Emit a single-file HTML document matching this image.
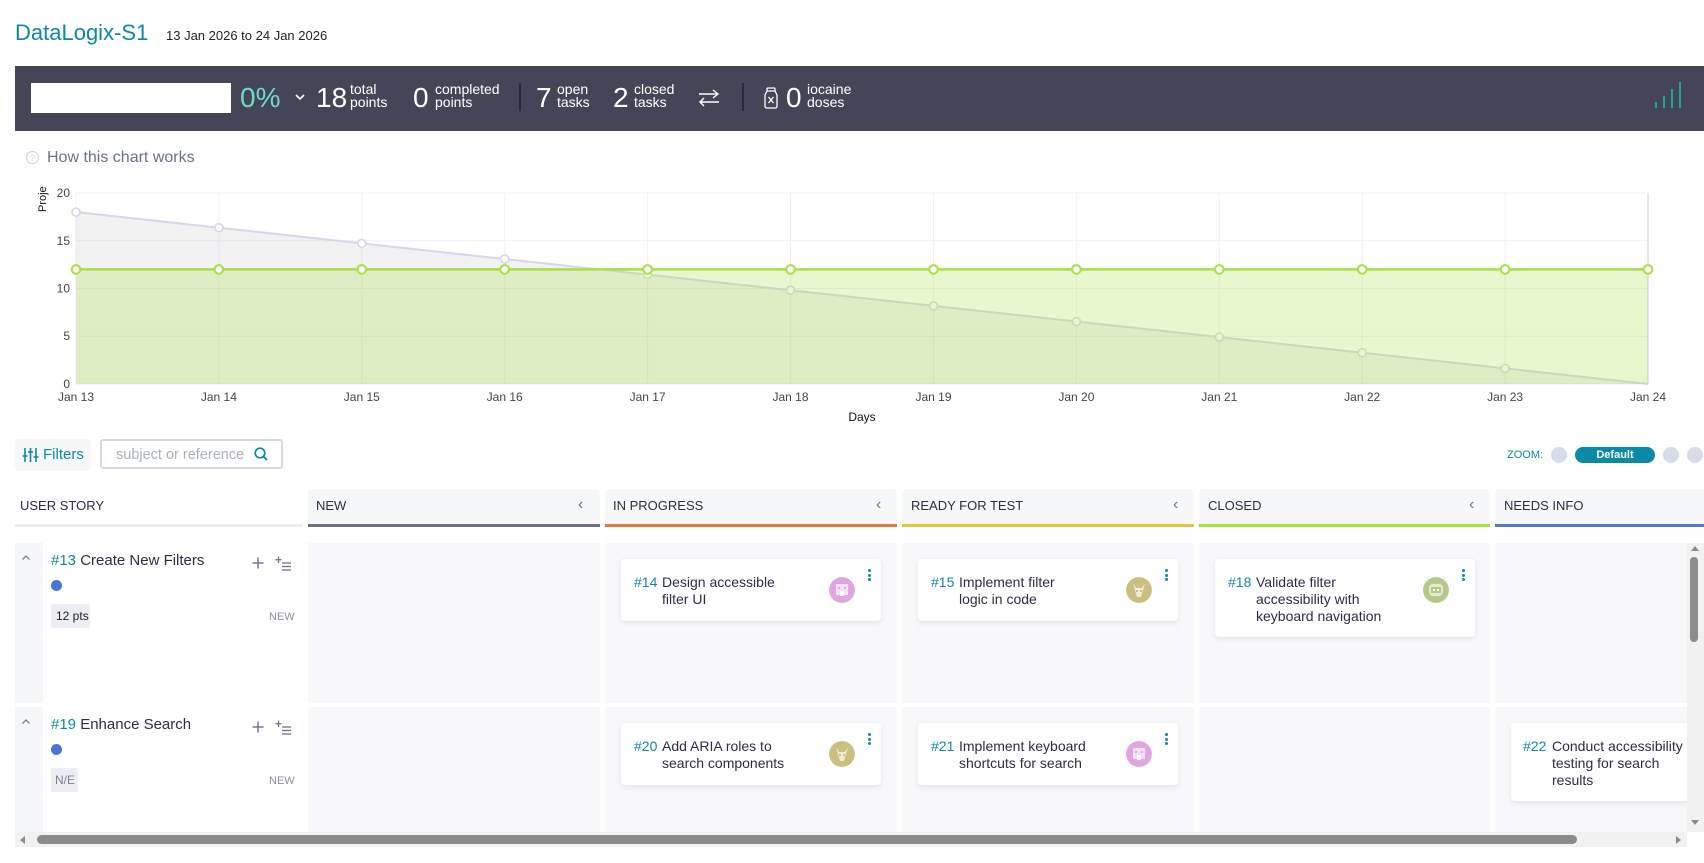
<!DOCTYPE html>
<html><head><meta charset="utf-8"><style>
*{box-sizing:border-box;margin:0;padding:0}
body{width:1704px;height:863px;overflow:hidden;background:#fff;font-family:"Liberation Sans",sans-serif;color:#2b2d42}
.a{position:absolute;white-space:nowrap}
.wrap{position:relative;width:1704px;height:863px;overflow:hidden}
.big{font-size:28px;line-height:28px;color:#fff}
.lbl{font-size:14px;line-height:13px;color:#fff}
.hd{font-size:13px;line-height:13px;color:#2b2d42}
.chev{font-size:16px;color:#6b7286}
.card{position:absolute;width:260px;background:#fff;border-radius:4px;box-shadow:0 2px 6px rgba(40,50,80,0.10)}
.card .ref{position:absolute;left:13px;top:15px;font-size:14px;line-height:17px;color:#0b8aa6}
.card .tt{position:absolute;left:41px;top:15px;font-size:14px;line-height:17px;color:#2b2d42;white-space:nowrap}
.card .av{position:absolute;right:26px;top:18px;width:26px;height:26px;border-radius:50%}
.card .dots{position:absolute;right:10px;top:10px;width:3px}
.card .dots i{display:block;width:3px;height:3px;border-radius:50%;background:#0b8aa6;margin-bottom:1.5px}
.cell{position:absolute;background:#f8f8fa}
</style></head><body><div class="wrap">

<!-- title -->
<div class="a" style="left:15px;top:21px;font-size:22px;line-height:24px;color:#0b8aa6">DataLogix-S1</div>
<div class="a" style="left:166px;top:29px;font-size:13px;line-height:14px;color:#222">13 Jan 2026 to 24 Jan 2026</div>

<!-- dark bar -->
<div class="a" style="left:15px;top:66px;width:1689px;height:65px;background:#444557"></div>
<div class="a" style="left:31px;top:83px;width:200px;height:30px;background:#fff"></div>
<div class="a big" style="left:240px;top:84px;color:#6fdcc2">0%</div>
<svg class="a" style="left:294px;top:92px" width="12" height="10"><polyline points="2,3 6,7 10,3" fill="none" stroke="#fff" stroke-width="1.6"/></svg>
<div class="a big" style="left:316px;top:84px">18</div>
<div class="a lbl" style="left:350px;top:83px">total<br>points</div>
<div class="a big" style="left:413px;top:84px">0</div>
<div class="a lbl" style="left:435px;top:83px">completed<br>points</div>
<div class="a" style="left:519px;top:83px;width:2px;height:28px;background:#2a2b38"></div>
<div class="a big" style="left:536px;top:84px">7</div>
<div class="a lbl" style="left:557px;top:83px">open<br>tasks</div>
<div class="a big" style="left:613px;top:84px">2</div>
<div class="a lbl" style="left:634px;top:83px">closed<br>tasks</div>
<svg class="a" style="left:697px;top:88px" width="24" height="20"><g fill="none" stroke="#fff" stroke-width="1.4"><line x1="2" y1="6" x2="21" y2="6"/><polyline points="16,2 21,6 16,10"/><line x1="3" y1="14" x2="22" y2="14"/><polyline points="7,10 3,14 7,18"/></g></svg>
<div class="a" style="left:742px;top:83px;width:2px;height:28px;background:#2a2b38"></div>
<svg class="a" style="left:762px;top:86px" width="18" height="24"><g fill="none" stroke="#fff" stroke-width="1.3"><rect x="5" y="2" width="8" height="3" rx="1"/><path d="M5 5 L3 9 L3 20 Q3 22 5 22 L13 22 Q15 22 15 20 L15 9 L13 5"/><path d="M6.5 11 L11.5 17 M11.5 11 L6.5 17"/></g></svg>
<div class="a big" style="left:786px;top:84px">0</div>
<div class="a lbl" style="left:807px;top:83px">iocaine<br>doses</div>
<div class="a" style="left:1655px;top:102px;width:2px;height:6px;background:#20a68a"></div>
<div class="a" style="left:1663px;top:96px;width:2px;height:12px;background:#20a68a"></div>
<div class="a" style="left:1671px;top:89px;width:2px;height:19px;background:#20a68a"></div>
<div class="a" style="left:1679px;top:82px;width:2px;height:26px;background:#20a68a"></div>

<!-- how this chart works -->
<svg class="a" style="left:25px;top:150px" width="16" height="16"><circle cx="7.5" cy="7.5" r="6" fill="none" stroke="#cfd4e0" stroke-width="1.2"/><text x="7.5" y="11" font-size="9" text-anchor="middle" fill="#cfd4e0" font-family="Liberation Sans">?</text></svg>
<div class="a" style="left:47px;top:149px;font-size:16px;line-height:17px;color:#6b7286">How this chart works</div>

<!-- chart -->
<svg class="a" style="left:0;top:0" width="1704" height="430" font-family="Liberation Sans, sans-serif">
<g stroke="#eef0f5" stroke-width="1">
<line x1="76" y1="193" x2="1648" y2="193"/><line x1="76" y1="240.75" x2="1648" y2="240.75"/><line x1="76" y1="288.5" x2="1648" y2="288.5"/><line x1="76" y1="336.25" x2="1648" y2="336.25"/>
<line x1="76" y1="193" x2="76" y2="384"/><line x1="218.9" y1="193" x2="218.9" y2="384"/><line x1="361.8" y1="193" x2="361.8" y2="384"/><line x1="504.7" y1="193" x2="504.7" y2="384"/><line x1="647.6" y1="193" x2="647.6" y2="384"/><line x1="790.5" y1="193" x2="790.5" y2="384"/><line x1="933.5" y1="193" x2="933.5" y2="384"/><line x1="1076.4" y1="193" x2="1076.4" y2="384"/><line x1="1219.3" y1="193" x2="1219.3" y2="384"/><line x1="1362.2" y1="193" x2="1362.2" y2="384"/><line x1="1505.1" y1="193" x2="1505.1" y2="384"/>
</g>
<line x1="1648" y1="193" x2="1648" y2="384" stroke="#d8dbe8" stroke-width="1.5"/>
<line x1="76" y1="384" x2="1648" y2="384" stroke="#eceef3" stroke-width="1"/>
<!-- gray series -->
<polygon points="76,212.1 218.9,227.7 361.8,243.4 504.7,259 647.6,274.6 790.5,290.2 933.5,305.9 1076.4,321.5 1219.3,337.1 1362.2,352.7 1505.1,368.4 1648,384 76,384" fill="rgba(150,150,150,0.124)"/>
<polyline points="76,212.1 218.9,227.7 361.8,243.4 504.7,259 647.6,274.6 790.5,290.2 933.5,305.9 1076.4,321.5 1219.3,337.1 1362.2,352.7 1505.1,368.4 1648,384" fill="none" stroke="#d3d8e8" stroke-width="2"/>
<g fill="#fff" stroke="#d3d8e8" stroke-width="1.6">
<circle cx="76" cy="212.1" r="4"/><circle cx="218.9" cy="227.7" r="4"/><circle cx="361.8" cy="243.4" r="4"/><circle cx="504.7" cy="259" r="4"/><circle cx="647.6" cy="274.6" r="4"/><circle cx="790.5" cy="290.2" r="4"/><circle cx="933.5" cy="305.9" r="4"/><circle cx="1076.4" cy="321.5" r="4"/><circle cx="1219.3" cy="337.1" r="4"/><circle cx="1362.2" cy="352.7" r="4"/><circle cx="1505.1" cy="368.4" r="4"/>
</g>
<!-- green series -->
<rect x="76" y="269.4" width="1572" height="114.6" fill="rgba(166,224,60,0.25)"/>
<line x1="76" y1="269.4" x2="1648" y2="269.4" stroke="#a8e044" stroke-width="2.5"/>
<g fill="#fff" stroke="#a8e044" stroke-width="2">
<circle cx="76" cy="269.4" r="4.3"/><circle cx="218.9" cy="269.4" r="4.3"/><circle cx="361.8" cy="269.4" r="4.3"/><circle cx="504.7" cy="269.4" r="4.3"/><circle cx="647.6" cy="269.4" r="4.3"/><circle cx="790.5" cy="269.4" r="4.3"/><circle cx="933.5" cy="269.4" r="4.3"/><circle cx="1076.4" cy="269.4" r="4.3"/><circle cx="1219.3" cy="269.4" r="4.3"/><circle cx="1362.2" cy="269.4" r="4.3"/><circle cx="1505.1" cy="269.4" r="4.3"/><circle cx="1648" cy="269.4" r="4.3"/>
</g>
<g font-size="12" fill="#444" text-anchor="end">
<text x="70" y="197">20</text><text x="70" y="245">15</text><text x="70" y="292.5">10</text><text x="70" y="340">5</text><text x="70" y="388">0</text>
</g>
<g font-size="12" fill="#444" text-anchor="middle">
<text x="76" y="401">Jan 13</text><text x="218.9" y="401">Jan 14</text><text x="361.8" y="401">Jan 15</text><text x="504.7" y="401">Jan 16</text><text x="647.6" y="401">Jan 17</text><text x="790.5" y="401">Jan 18</text><text x="933.5" y="401">Jan 19</text><text x="1076.4" y="401">Jan 20</text><text x="1219.3" y="401">Jan 21</text><text x="1362.2" y="401">Jan 22</text><text x="1505.1" y="401">Jan 23</text><text x="1648" y="401">Jan 24</text>
</g>
<text x="862" y="421" font-size="12" fill="#111" text-anchor="middle">Days</text>
<text transform="translate(46,212) rotate(-90)" font-size="11" fill="#111">Proje</text>
</svg>

<!-- filters / search -->
<div class="a" style="left:15px;top:439px;width:76px;height:32px;background:#f5f7f9;border-radius:4px"></div>
<svg class="a" style="left:22px;top:447px" width="18" height="17"><g stroke="#0b8aa6" stroke-width="1.6"><line x1="3" y1="1" x2="3" y2="15"/><line x1="8.5" y1="1" x2="8.5" y2="15"/><line x1="14" y1="1" x2="14" y2="15"/><line x1="0.5" y1="9" x2="5.5" y2="9"/><line x1="6" y1="5" x2="11" y2="5"/><line x1="11.5" y1="10" x2="16.5" y2="10"/></g></svg>
<div class="a" style="left:43px;top:447px;font-size:15px;line-height:16px;color:#0b8aa6">Filters</div>
<div class="a" style="left:100px;top:439px;width:183px;height:30px;border:2px solid #d3d9e6;border-radius:3px;background:#fff"></div>
<div class="a" style="left:116px;top:447px;font-size:14.5px;line-height:16px;color:#a9afbd">subject or reference</div>
<svg class="a" style="left:253px;top:446px" width="16" height="16"><circle cx="7" cy="7" r="4.8" fill="none" stroke="#0b8aa6" stroke-width="1.7"/><line x1="10.5" y1="10.5" x2="14" y2="14" stroke="#0b8aa6" stroke-width="1.8"/></svg>

<!-- zoom -->
<div class="a" style="left:1507px;top:449px;font-size:11px;line-height:12px;color:#0b8aa6">ZOOM:</div>
<div class="a" style="left:1551px;top:447px;width:16px;height:16px;border-radius:50%;background:#d6dbe7"></div>
<div class="a" style="left:1575px;top:447px;width:80px;height:16px;border-radius:8px;background:#0b8aa6;color:#fff;font-size:11px;line-height:16px;text-align:center;font-weight:bold">Default</div>
<div class="a" style="left:1663px;top:447px;width:16px;height:16px;border-radius:50%;background:#d6dbe7"></div>
<div class="a" style="left:1687px;top:447px;width:16px;height:16px;border-radius:50%;background:#d6dbe7"></div>

<!-- kanban headers -->
<div class="a hd" style="left:20px;top:499px">USER STORY</div>
<div class="a" style="left:15px;top:524px;width:288px;height:3px;background:#e9ecf2"></div>

<div class="a" style="left:308px;top:489px;width:292px;height:38px;background:#f6f7f9;border-radius:4px 4px 0 0;border-bottom:3px solid #6d6e8c"></div>
<div class="a hd" style="left:316px;top:499px">NEW</div>
<div class="a chev" style="left:578px;top:496px">‹</div>

<div class="a" style="left:605px;top:489px;width:292px;height:38px;background:#f6f7f9;border-radius:4px 4px 0 0;border-bottom:3px solid #e07a3c"></div>
<div class="a hd" style="left:613px;top:499px">IN PROGRESS</div>
<div class="a chev" style="left:876px;top:496px">‹</div>

<div class="a" style="left:902px;top:489px;width:292px;height:38px;background:#f6f7f9;border-radius:4px 4px 0 0;border-bottom:3px solid #e3c836"></div>
<div class="a hd" style="left:911px;top:499px">READY FOR TEST</div>
<div class="a chev" style="left:1173px;top:496px">‹</div>

<div class="a" style="left:1199px;top:489px;width:291px;height:38px;background:#f6f7f9;border-radius:4px 4px 0 0;border-bottom:3px solid #a6e03c"></div>
<div class="a hd" style="left:1208px;top:499px">CLOSED</div>
<div class="a chev" style="left:1469px;top:496px">‹</div>

<div class="a" style="left:1495px;top:489px;width:215px;height:38px;background:#f6f7f9;border-radius:4px 4px 0 0;border-bottom:3px solid #4f79d6"></div>
<div class="a hd" style="left:1504px;top:499px">NEEDS INFO</div>

<!-- rows background -->
<div class="a" style="left:15px;top:543px;width:28px;height:160px;background:#f5f6f8"></div>
<div class="a" style="left:15px;top:707px;width:28px;height:125px;background:#f5f6f8"></div>
<div class="cell" style="left:308px;top:543px;width:292px;height:160px"></div>
<div class="cell" style="left:605px;top:543px;width:292px;height:160px"></div>
<div class="cell" style="left:902px;top:543px;width:292px;height:160px"></div>
<div class="cell" style="left:1199px;top:543px;width:291px;height:160px"></div>
<div class="cell" style="left:1495px;top:543px;width:192px;height:160px"></div>
<div class="cell" style="left:308px;top:707px;width:292px;height:125px"></div>
<div class="cell" style="left:605px;top:707px;width:292px;height:125px"></div>
<div class="cell" style="left:902px;top:707px;width:292px;height:125px"></div>
<div class="cell" style="left:1199px;top:707px;width:291px;height:125px"></div>
<div class="cell" style="left:1495px;top:707px;width:192px;height:125px;overflow:hidden">
  <div class="card" style="left:16px;top:16px;height:78px"><div class="ref" style="left:12px">#22</div><div class="tt">Conduct accessibility<br>testing for search<br>results</div></div>
</div>

<!-- user story row 1 -->
<svg class="a" style="left:21px;top:554px" width="10" height="7"><polyline points="1.5,5.5 5,2 8.5,5.5" fill="none" stroke="#7a8090" stroke-width="1.3"/></svg>
<div class="a" style="left:51px;top:553px;font-size:15px;line-height:16px"><span style="color:#0b8aa6">#13</span> Create New Filters</div>
<svg class="a" style="left:252px;top:557px" width="12" height="12"><g stroke="#6b7286" stroke-width="1.4"><line x1="6" y1="0.5" x2="6" y2="11.5"/><line x1="0.5" y1="6" x2="11.5" y2="6"/></g></svg>
<svg class="a" style="left:275px;top:556px" width="17" height="16"><g stroke="#6b7286" stroke-width="1.3"><line x1="3.5" y1="0.5" x2="3.5" y2="7"/><line x1="0.5" y1="3.7" x2="6.5" y2="3.7"/><line x1="7" y1="7" x2="16" y2="7"/><line x1="7" y1="10.5" x2="16" y2="10.5"/><line x1="7" y1="14" x2="16" y2="14"/></g></svg>
<div class="a" style="left:51px;top:580px;width:11px;height:11px;border-radius:50%;background:#4a75d6"></div>
<div class="a" style="left:51px;top:604px;width:39px;height:24px;background:#eceef3;border-radius:2px;font-size:12px;line-height:24px;color:#222;padding-left:5px">12 pts</div>
<div class="a" style="left:269px;top:611px;font-size:11px;line-height:12px;color:#8a8fa0">NEW</div>

<!-- user story row 2 -->
<svg class="a" style="left:21px;top:718px" width="10" height="7"><polyline points="1.5,5.5 5,2 8.5,5.5" fill="none" stroke="#7a8090" stroke-width="1.3"/></svg>
<div class="a" style="left:51px;top:717px;font-size:15px;line-height:16px"><span style="color:#0b8aa6">#19</span> Enhance Search</div>
<svg class="a" style="left:252px;top:721px" width="12" height="12"><g stroke="#6b7286" stroke-width="1.4"><line x1="6" y1="0.5" x2="6" y2="11.5"/><line x1="0.5" y1="6" x2="11.5" y2="6"/></g></svg>
<svg class="a" style="left:275px;top:720px" width="17" height="16"><g stroke="#6b7286" stroke-width="1.3"><line x1="3.5" y1="0.5" x2="3.5" y2="7"/><line x1="0.5" y1="3.7" x2="6.5" y2="3.7"/><line x1="7" y1="7" x2="16" y2="7"/><line x1="7" y1="10.5" x2="16" y2="10.5"/><line x1="7" y1="14" x2="16" y2="14"/></g></svg>
<div class="a" style="left:51px;top:744px;width:11px;height:11px;border-radius:50%;background:#4a75d6"></div>
<div class="a" style="left:51px;top:768px;width:27px;height:24px;background:#eceef3;border-radius:2px;font-size:12px;line-height:24px;color:#7a8090;padding-left:4px">N/E</div>
<div class="a" style="left:269px;top:775px;font-size:11px;line-height:12px;color:#8a8fa0">NEW</div>

<!-- cards -->
<div class="card" style="left:621px;top:559px;height:62px"><div class="ref">#14</div><div class="tt">Design accessible<br>filter UI</div>
  <svg class="av" viewBox="0 0 26 26"><circle cx="13" cy="13" r="13" fill="#dfa6df"/><rect x="7" y="7" width="12" height="11" fill="#f3e0f3"/><rect x="9" y="10" width="2" height="2" fill="#dfa6df"/><rect x="15" y="10" width="2" height="2" fill="#dfa6df"/><rect x="11" y="14" width="4" height="5" fill="#fff"/></svg>
  <div class="dots"><i></i><i></i><i></i></div></div>
<div class="card" style="left:918px;top:559px;height:62px"><div class="ref">#15</div><div class="tt">Implement filter<br>logic in code</div>
  <svg class="av" viewBox="0 0 26 26"><circle cx="13" cy="13" r="13" fill="#cbbf80"/><path d="M7 6 L10 11 L16 11 L19 6 L17 13 L15 20 L11 20 L9 13 Z" fill="#f1ecd6"/><rect x="10" y="13" width="2" height="2" fill="#cbbf80"/><rect x="14" y="13" width="2" height="2" fill="#cbbf80"/></svg>
  <div class="dots"><i></i><i></i><i></i></div></div>
<div class="card" style="left:1215px;top:559px;height:78px"><div class="ref">#18</div><div class="tt">Validate filter<br>accessibility with<br>keyboard navigation</div>
  <svg class="av" viewBox="0 0 26 26"><circle cx="13" cy="13" r="13" fill="#b5c98a"/><rect x="6" y="7" width="14" height="12" rx="4" fill="#e3ebcf"/><rect x="8" y="10" width="10" height="6" fill="#b5c98a"/><rect x="10" y="12" width="2" height="2" fill="#fff"/><rect x="14" y="12" width="2" height="2" fill="#fff"/></svg>
  <div class="dots"><i></i><i></i><i></i></div></div>
<div class="card" style="left:621px;top:723px;height:62px"><div class="ref">#20</div><div class="tt">Add ARIA roles to<br>search components</div>
  <svg class="av" viewBox="0 0 26 26"><circle cx="13" cy="13" r="13" fill="#cbbf80"/><path d="M7 6 L10 11 L16 11 L19 6 L17 13 L15 20 L11 20 L9 13 Z" fill="#f1ecd6"/><rect x="10" y="13" width="2" height="2" fill="#cbbf80"/><rect x="14" y="13" width="2" height="2" fill="#cbbf80"/></svg>
  <div class="dots"><i></i><i></i><i></i></div></div>
<div class="card" style="left:918px;top:723px;height:62px"><div class="ref">#21</div><div class="tt">Implement keyboard<br>shortcuts for search</div>
  <svg class="av" viewBox="0 0 26 26"><circle cx="13" cy="13" r="13" fill="#dfa6df"/><rect x="7" y="7" width="12" height="11" fill="#f3e0f3"/><rect x="9" y="10" width="2" height="2" fill="#dfa6df"/><rect x="15" y="10" width="2" height="2" fill="#dfa6df"/><rect x="11" y="14" width="4" height="5" fill="#fff"/></svg>
  <div class="dots"><i></i><i></i><i></i></div></div>

<!-- vertical scrollbar -->
<div class="a" style="left:1687px;top:543px;width:17px;height:289px;background:#f1f1f1"></div>
<svg class="a" style="left:1690px;top:544px" width="10" height="8"><polygon points="1,7 5,2 9,7" fill="#8b8b8b"/></svg>
<div class="a" style="left:1690px;top:557px;width:8px;height:85px;border-radius:4px;background:#8b8b8b"></div>
<svg class="a" style="left:1690px;top:819px" width="10" height="8"><polygon points="1,1 9,1 5,6" fill="#8b8b8b"/></svg>

<!-- horizontal scrollbar -->
<div class="a" style="left:15px;top:832px;width:1672px;height:15px;background:#f1f1f1"></div>
<svg class="a" style="left:18px;top:835px" width="8" height="10"><polygon points="7,1 7,9 2,5" fill="#8b8b8b"/></svg>
<div class="a" style="left:37px;top:835px;width:1540px;height:9px;border-radius:4.5px;background:#8b8b8b"></div>
<svg class="a" style="left:1675px;top:835px" width="8" height="10"><polygon points="1,1 1,9 6,5" fill="#8b8b8b"/></svg>

</div></body></html>
